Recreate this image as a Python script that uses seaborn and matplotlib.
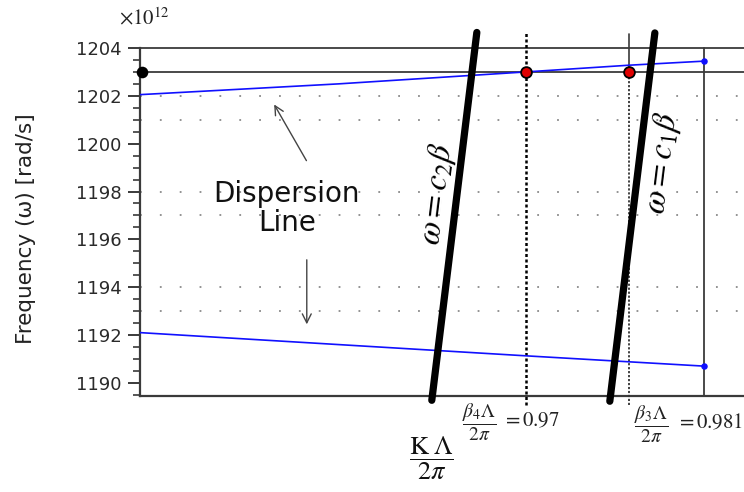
import matplotlib
matplotlib.use("Agg")
import matplotlib.pyplot as plt
import seaborn as sns
import numpy as np
import pandas as pd

# ---- data ----
beta_upper = [0.9288, 0.9500, 0.9700, 0.9810, 0.9890]
omega_upper = [1202.05, 1202.50, 1203.00, 1203.28, 1203.45]
beta_lower = [0.9288, 0.9500, 0.9700, 0.9810, 0.9890]
omega_lower = [1192.10, 1191.60, 1191.13, 1190.88, 1190.70]

c2_beta = [0.95996, 0.96477]
c2_omega = [1189.27, 1204.65]
c1_beta = [0.97897, 0.98378]
c1_omega = [1189.23, 1204.63]

beta4 = 0.97
beta3 = 0.981
beta_end = 0.989
omega_ref = [1203.0, 1204.0]
grid_dotted = [1202, 1201, 1198, 1197, 1194, 1193]
yticks = [1190, 1192, 1194, 1196, 1198, 1200, 1202, 1204]

sns.set_theme(style="white")
plt.rcParams["font.family"] = ["DejaVu Sans"]
plt.rcParams["mathtext.fontset"] = "stix"

W, H = 744, 492
fig = plt.figure(figsize=(W / 100, H / 100), dpi=100)
ax = fig.add_axes([140 / W, (H - 396) / H, (W - 140) / W, (396 - 48) / H])
ax.set_xlim(0.9288, 0.9933)
ax.set_ylim(1189.45, 1204.0)

spc = "#3a3a3a"
for s in ["top", "right"]:
    ax.spines[s].set_visible(False)
for s in ["left", "bottom"]:
    ax.spines[s].set_color(spc)
    ax.spines[s].set_linewidth(1.6)

# dotted grid rows
for g in grid_dotted:
    ax.axhline(g, color="#8a8a8a", lw=1.3, ls=(0, (1, 10)), zorder=1)

# reference horizontal lines
for o in omega_ref:
    ax.plot([0.9288, 0.9933], [o, o], color=spc, lw=1.3, clip_on=False, zorder=2)

# vertical lines
ax.plot([beta4, beta4], [1189.06, 1204.67], color="black", lw=1.8, ls=(0, (1.2, 1.0)),
        clip_on=False, zorder=3)
ax.plot([beta3, beta3], [1203.0, 1204.6], color=spc, lw=1.2, clip_on=False, zorder=3)
ax.plot([beta3, beta3], [1189.06, 1203.0], color="#333333", lw=1.3, ls=(0, (1.2, 1.0)),
        clip_on=False, zorder=3)
ax.plot([beta_end, beta_end], [1189.45, 1204.0], color=spc, lw=1.3, clip_on=False, zorder=3)

# dispersion lines
df_u = pd.DataFrame({"beta": beta_upper, "omega": omega_upper})
df_l = pd.DataFrame({"beta": beta_lower, "omega": omega_lower})
sns.lineplot(data=df_u, x="beta", y="omega", ax=ax, color="#1010ff", lw=1.2, zorder=4)
sns.lineplot(data=df_l, x="beta", y="omega", ax=ax, color="#1010ff", lw=1.2, zorder=4)
sns.scatterplot(x=[beta_end, beta_end], y=[omega_upper[-1], omega_lower[-1]], ax=ax,
                color="#1010ff", s=22, linewidth=0, zorder=5)

# light lines
ax.plot(c2_beta, c2_omega, color="black", lw=5.2, solid_capstyle="round", clip_on=False, zorder=6)
ax.plot(c1_beta, c1_omega, color="black", lw=5.2, solid_capstyle="round", clip_on=False, zorder=6)

# points
sns.scatterplot(x=[0.9290], y=[1203.0], ax=ax, color="black", s=70, linewidth=0, zorder=7)
sns.scatterplot(x=[beta4, beta3], y=[1203.0, 1203.0], ax=ax, color="#e00000", s=60,
                edgecolor="black", linewidth=1.3, zorder=7)
for c in ax.collections:
    c.set_clip_on(False)

# ticks
ax.set_yticks(yticks)
ax.set_yticks(np.arange(1189.5, 1204.01, 0.5), minor=True)
ax.tick_params(axis="y", which="major", direction="out", length=8.5, width=1.4, color=spc,
               labelsize=13, pad=5, left=True, labelcolor="#2a2a2a")
ax.tick_params(axis="y", which="minor", direction="out", length=5, width=1.2, color=spc, left=True)
ax.set_xticks([])
ax.set_xlabel("")
ax.set_ylabel("")

fig.text(26 / W, 1 - 229 / H, "Frequency (ω) [rad/s]", rotation=90, ha="center", va="center",
         fontsize=15.5, color="#222222")
fig.text(119 / W, 1 - 18 / H, r"$\times10^{12}$", ha="left", va="center", fontsize=15,
         color="#222222")

# annotation text and arrows
ax.text(0.94448, 1197.3, "Dispersion\nLine", ha="center", va="center", fontsize=20,
        color="#111111", linespacing=1.05, zorder=8)
ax.annotate("", xy=(0.94298, 1201.74), xytext=(0.94672, 1199.19),
            arrowprops=dict(arrowstyle="->", color="#444444", lw=1.0, mutation_scale=16))
ax.annotate("", xy=(0.94661, 1192.33), xytext=(0.94661, 1195.26),
            arrowprops=dict(arrowstyle="->", color="#444444", lw=1.0, mutation_scale=16))

ax.text(0.9606, 1197.9, r"$\omega = c_2\beta$", rotation=83, ha="center", va="center",
        fontsize=24, color="black", rotation_mode="anchor", zorder=8)
ax.text(0.98463, 1199.2, r"$\omega = c_1\beta$", rotation=83, ha="center", va="center",
        fontsize=24, color="black", rotation_mode="anchor", zorder=8)

fig.text(462 / W, 1 - 422 / H, r"$\dfrac{\beta_4\Lambda}{2\pi}$", ha="left", va="center",
         fontsize=14, color="#222222")
fig.text(502 / W, 1 - 420 / H, r"$= 0.97$", ha="left", va="center",
         fontsize=15, color="#222222")
fig.text(634 / W, 1 - 424 / H, r"$\dfrac{\beta_3\Lambda}{2\pi}$", ha="left", va="center",
         fontsize=14, color="#222222")
fig.text(676 / W, 1 - 422 / H, r"$= 0.981$", ha="left", va="center",
         fontsize=15, color="#222222")
fig.text(431 / W, 1 - 458 / H, r"$\dfrac{\mathrm{K}\;\Lambda}{2\pi}$", ha="center", va="center",
         fontsize=19, color="#111111")

fig.savefig("out.png", dpi=100)
